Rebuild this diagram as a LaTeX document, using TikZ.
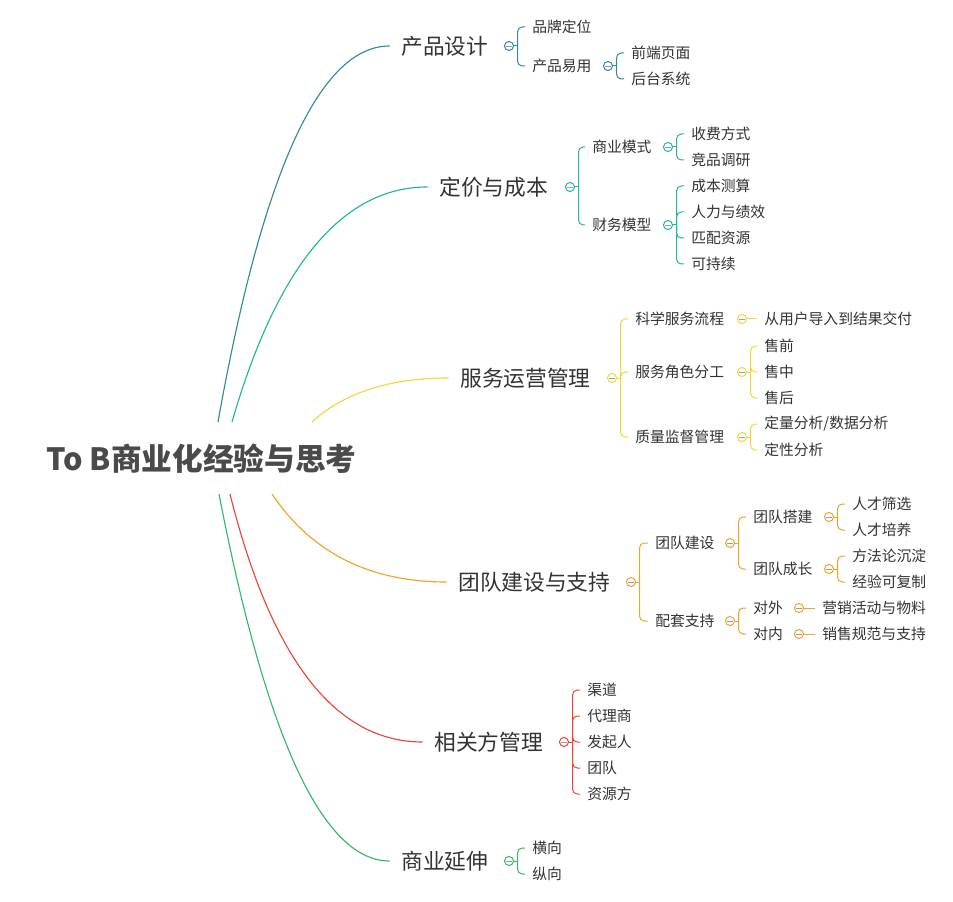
\documentclass[tikz,border=0pt]{standalone}
\usepackage{fontspec}
\setmainfont{Noto Sans CJK SC}
\usetikzlibrary{calc}
\definecolor{txt}{HTML}{333333}
\definecolor{roottxt}{HTML}{4A4A4A}
\definecolor{colA}{HTML}{2E8B9E}
\definecolor{colB}{HTML}{22B5A0}
\definecolor{colC}{HTML}{F7D43A}
\definecolor{colD}{HTML}{F5A02A}
\definecolor{colE}{HTML}{EE4433}
\definecolor{colF}{HTML}{34B86A}
\definecolor{minusc}{HTML}{9A9AB2}
\tikzset{
  lvlone/.style={anchor=west, inner xsep=8.6pt, inner ysep=0pt, xshift=-8.6pt,
    font=\fontsize{16.3pt}{19pt}\selectfont, text=txt},
  leaf/.style={anchor=west, inner xsep=5.25pt, inner ysep=0pt, xshift=-5.25pt,
    font=\fontsize{11.1pt}{13pt}\selectfont, text=txt},
  tog/.style={circle, draw=#1, fill=white, line width=0.75pt, minimum size=6.8pt, inner sep=0pt,
    path picture={\draw[line width=0.6pt, minusc] ([xshift=-1.9pt]path picture bounding box.center) -- ([xshift=1.9pt]path picture bounding box.center);}},
  br/.style={draw=#1, line width=0.75pt, rounded corners=3.6pt},
  ln/.style={draw=#1, line width=0.75pt},
  cv/.style={draw=#1, line width=0.85pt},
}
\begin{document}
\begin{tikzpicture}[x=0.75pt,y=-0.75pt]
\fill[white] (0,0) rectangle (953,902);
\useasboundingbox (0,0) rectangle (953,902);

% root
\node[font=\bfseries\fontsize{23pt}{27pt}\selectfont, text=roottxt, inner sep=0pt] (root) at (201.5,459) {To B商业化经验与思考};

% level one
\node[lvlone] (A) at (401,46) {产品设计};
\node[lvlone] (B) at (439,187) {定价与成本};
\node[lvlone] (C) at (460,378) {服务运营管理};
\node[lvlone] (D) at (458,582) {团队建设与支持};
\node[lvlone] (E) at (434,742) {相关方管理};
\node[lvlone] (F) at (401,861) {商业延伸};

% curves
\coordinate (sA) at (218,422); \coordinate (qA) at (285,46);
\coordinate (sB) at (232,422); \coordinate (qB) at (300,187);
\coordinate (sC) at (312,422); \coordinate (qC) at (360,378);
\coordinate (sD) at (272,494); \coordinate (qD) at (331,582);
\coordinate (sE) at (230,494); \coordinate (qE) at (292,742);
\coordinate (sF) at (219,494); \coordinate (qF) at (290,861);
\foreach \n/\c in {A/colA,B/colB,C/colC,D/colD,E/colE,F/colF}{
  \draw[cv=\c] (s\n) .. controls ($(s\n)!2/3!(q\n)$) and ($(\n.west)!2/3!(q\n)$) .. (\n.west);
}

% ---------- Branch A
\node[tog=colA] (cA) at (509,46) {};
\coordinate (bA) at ([xshift=2.6pt]cA.east);
\node[leaf] (A1) at (532,27) {品牌定位};
\node[leaf] (A2) at (532,66) {产品易用};
\node[tog=colA] (cA2) at (608,66) {};
\coordinate (bA2) at ([xshift=2.6pt]cA2.east);
\node[leaf] (A21) at (631,53) {前端页面};
\node[leaf] (A22) at (631,79) {后台系统};
\draw[ln=colA] (cA) -- (bA);
\foreach \k in {A1,A2} \draw[br=colA] (bA) |- (\k);
\draw[ln=colA] (cA2) -- (bA2);
\foreach \k in {A21,A22} \draw[br=colA] (bA2) |- (\k);

% ---------- Branch B
\node[tog=colB] (cB) at (570,187) {};
\coordinate (bB) at ([xshift=2.6pt]cB.east);
\node[leaf] (B1) at (592,147) {商业模式};
\node[leaf] (B2) at (592,225) {财务模型};
\node[tog=colB] (cB1) at (668,147) {};
\coordinate (bB1) at ([xshift=2.6pt]cB1.east);
\node[leaf] (B11) at (691,134) {收费方式};
\node[leaf] (B12) at (691,160) {竞品调研};
\node[tog=colB] (cB2) at (668,225) {};
\coordinate (bB2) at ([xshift=2.6pt]cB2.east);
\node[leaf] (B21) at (691,186) {成本测算};
\node[leaf] (B22) at (691,212) {人力与绩效};
\node[leaf] (B23) at (691,238) {匹配资源};
\node[leaf] (B24) at (691,264) {可持续};
\draw[ln=colB] (cB) -- (bB);
\foreach \k in {B1,B2} \draw[br=colB] (bB) |- (\k);
\draw[ln=colB] (cB1) -- (bB1);
\foreach \k in {B11,B12} \draw[br=colB] (bB1) |- (\k);
\draw[ln=colB] (cB2) -- (bB2);
\foreach \k in {B21,B22,B23,B24} \draw[br=colB] (bB2) |- (\k);

% ---------- Branch C
\node[tog=colC] (cC) at (612,378) {};
\coordinate (bC) at ([xshift=2.6pt]cC.east);
\node[leaf] (C1) at (635,319) {科学服务流程};
\node[leaf] (C2) at (635,372) {服务角色分工};
\node[leaf] (C3) at (635,437) {质量监督管理};
\node[tog=colC] (cC1) at (742,319) {};
\node[leaf] (C11) at (764,319) {从用户导入到结果交付};
\node[tog=colC] (cC2) at (742,372) {};
\coordinate (bC2) at ([xshift=2.6pt]cC2.east);
\node[leaf] (C21) at (764,346) {售前};
\node[leaf] (C22) at (764,372) {售中};
\node[leaf] (C23) at (764,398) {售后};
\node[tog=colC] (cC3) at (742,437) {};
\coordinate (bC3) at ([xshift=2.6pt]cC3.east);
\node[leaf] (C31) at (764,424) {定量分析/数据分析};
\node[leaf] (C32) at (764,450) {定性分析};
\draw[ln=colC] (cC) -- (bC);
\foreach \k in {C1,C2,C3} \draw[br=colC] (bC) |- (\k);
\draw[ln=colC] (cC1) -- (C11);
\draw[ln=colC] (cC2) -- (bC2);
\foreach \k in {C21,C22,C23} \draw[br=colC] (bC2) |- (\k);
\draw[ln=colC] (cC3) -- (bC3);
\foreach \k in {C31,C32} \draw[br=colC] (bC3) |- (\k);

% ---------- Branch D
\node[tog=colD] (cD) at (631,582) {};
\coordinate (bD) at ([xshift=2.6pt]cD.east);
\node[leaf] (D1) at (655,543) {团队建设};
\node[leaf] (D2) at (655,621) {配套支持};
\node[tog=colD] (cD1) at (730,543) {};
\coordinate (bD1) at ([xshift=2.6pt]cD1.east);
\node[leaf] (D11) at (753,517) {团队搭建};
\node[leaf] (D12) at (753,569) {团队成长};
\node[tog=colD] (cD11) at (829,517) {};
\coordinate (bD11) at ([xshift=2.6pt]cD11.east);
\node[leaf] (D111) at (852,504) {人才筛选};
\node[leaf] (D112) at (852,530) {人才培养};
\node[tog=colD] (cD12) at (829,569) {};
\coordinate (bD12) at ([xshift=2.6pt]cD12.east);
\node[leaf] (D121) at (852,556) {方法论沉淀};
\node[leaf] (D122) at (852,582) {经验可复制};
\node[tog=colD] (cD2) at (730,621) {};
\coordinate (bD2) at ([xshift=2.6pt]cD2.east);
\node[leaf] (D21) at (753,608) {对外};
\node[leaf] (D22) at (753,634) {对内};
\node[tog=colD] (cD21) at (799,608) {};
\node[leaf] (D211) at (822,608) {营销活动与物料};
\node[tog=colD] (cD22) at (799,634) {};
\node[leaf] (D221) at (822,634) {销售规范与支持};
\draw[ln=colD] (cD) -- (bD);
\foreach \k in {D1,D2} \draw[br=colD] (bD) |- (\k);
\draw[ln=colD] (cD1) -- (bD1);
\foreach \k in {D11,D12} \draw[br=colD] (bD1) |- (\k);
\draw[ln=colD] (cD11) -- (bD11);
\foreach \k in {D111,D112} \draw[br=colD] (bD11) |- (\k);
\draw[ln=colD] (cD12) -- (bD12);
\foreach \k in {D121,D122} \draw[br=colD] (bD12) |- (\k);
\draw[ln=colD] (cD2) -- (bD2);
\foreach \k in {D21,D22} \draw[br=colD] (bD2) |- (\k);
\draw[ln=colD] (cD21) -- (D211);
\draw[ln=colD] (cD22) -- (D221);

% ---------- Branch E
\node[tog=colE] (cE) at (564,742) {};
\coordinate (bE) at ([xshift=2.6pt]cE.east);
\node[leaf] (E1) at (587,690) {渠道};
\node[leaf] (E2) at (587,716) {代理商};
\node[leaf] (E3) at (587,742) {发起人};
\node[leaf] (E4) at (587,768) {团队};
\node[leaf] (E5) at (587,794) {资源方};
\draw[ln=colE] (cE) -- (bE);
\foreach \k in {E1,E2,E3,E4,E5} \draw[br=colE] (bE) |- (\k);

% ---------- Branch F
\node[tog=colF] (cF) at (509,861) {};
\coordinate (bF) at ([xshift=2.6pt]cF.east);
\node[leaf] (F1) at (532,848) {横向};
\node[leaf] (F2) at (532,874) {纵向};
\draw[ln=colF] (cF) -- (bF);
\foreach \k in {F1,F2} \draw[br=colF] (bF) |- (\k);
\end{tikzpicture}
\end{document}
